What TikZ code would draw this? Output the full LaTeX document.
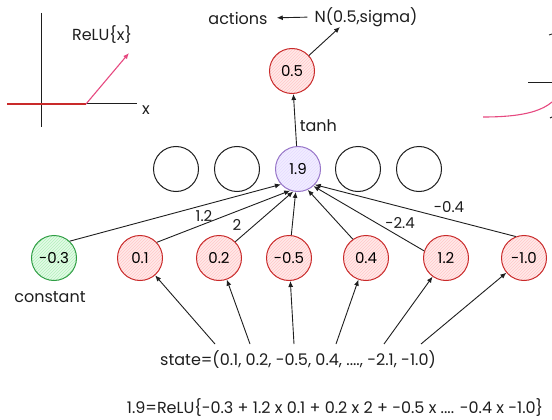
\documentclass[tikz,border=0pt]{standalone}
\usepackage{fontspec}
\setmainfont{Poppins}
\usetikzlibrary{arrows.meta,patterns}
\definecolor{exred}{HTML}{C92A2A}
\definecolor{exredfill}{HTML}{FFC9C9}
\definecolor{exgreen}{HTML}{2F9E44}
\definecolor{exgreenfill}{HTML}{B2F2BB}
\definecolor{expurple}{HTML}{9775C8}
\definecolor{expurplefill}{HTML}{E5DBFF}
\definecolor{expink}{HTML}{E64980}
\definecolor{exline}{HTML}{1E1E1E}
\tikzset{
  txt/.style={font=\fontsize{16}{18}\selectfont, text=exline, inner sep=1pt},
  neuron/.style={circle, minimum size=45pt, inner sep=0pt, draw=exline, line width=1pt, font=\fontsize{15}{17}\selectfont},
  rednode/.style={neuron, draw=exred, preaction={fill=exredfill!40}, pattern={north east lines}, pattern color=exredfill},
  greennode/.style={neuron, draw=exgreen, preaction={fill=exgreenfill!35}, pattern={north east lines}, pattern color=exgreenfill},
  purplenode/.style={neuron, draw=expurple, preaction={fill=expurplefill!50}, pattern={north east lines}, pattern color=expurplefill},
  conn/.style={draw=exline, line width=0.9pt, -{Latex[length=6pt,width=5pt]}},
  wlabel/.style={txt, font=\fontsize{15}{17}\selectfont},
}
\begin{document}
\begin{tikzpicture}[x=1pt,y=-1pt]
\useasboundingbox (0,0) rectangle (552,420);
% ReLU plot (left)
\draw[exline, line width=1pt] (41,13) -- (41,127);
\draw[exline, line width=1pt] (7,104) -- (137,104);
\draw[exred, line width=1.3pt] (7,104) -- (86,104);
\draw[expink, line width=1.1pt, -{Latex[length=6pt,width=5pt]}] (86,104) -- (129,53);
\node[txt] (relu) at (102,35) {ReLU\{x\}};
\node[txt] (xlab) at (146,110) {x};
% tanh plot (right, cut off)
\draw[exline, line width=1pt] (528,83) -- (552,83);
\draw[expink, line width=1.1pt] (483,117) .. controls (520,117) and (540,112) .. (552,102);
\draw[exline, line width=0.9pt] (549,35) -- (552,34);
\draw[exline, line width=0.9pt] (550,118) -- (552,117);
% top
\node[txt] (actions) at (238,18) {actions};
\node[txt] (normal) at (366,17) {N(0.5,sigma)};
\draw[conn, shorten >=8pt, shorten <=6pt] (normal.west) -- (actions.east);
% output node
\node[rednode] (out) at (292,71) {0.5};
\coordinate (ntip) at (340,27);
\draw[conn] (out) -- (ntip);
% hidden layer
\node[neuron] (h1) at (176,169) {};
\node[neuron] (h2) at (237,169) {};
\node[purplenode] (h3) at (298,169) {1.9};
\node[neuron] (h4) at (358,169) {};
\node[neuron] (h5) at (419,169) {};
\draw[conn] (h3) -- node[txt, right, pos=0.4, xshift=3pt] {tanh} (out);
% input layer
\node[greennode] (c) at (54,258) {-0.3};
\node[rednode] (i1) at (140,258) {0.1};
\node[rednode] (i2) at (219,258) {0.2};
\node[rednode] (i3) at (289,258) {-0.5};
\node[rednode] (i4) at (366,258) {0.4};
\node[rednode] (i5) at (446,258) {1.2};
\node[rednode] (i6) at (524,258) {-1.0};
\node[txt] (const) at (50,297) {constant};
% weights
\draw[conn] (c.47) -- (h3.222);
\draw[conn] (i1.43) -- (h3.250);
\draw[conn] (i2.45) -- (h3.258);
\draw[conn] (i3) -- (h3);
\draw[conn] (i4.125) -- (h3.295);
\draw[conn] (i5.162) -- (h3.312);
\draw[conn] (i6.111) -- (h3.317);
\node[wlabel] (w1) at (204,216) {1.2};
\node[wlabel] (w2) at (237,225) {2};
\node[wlabel] (w5) at (400,223) {-2.4};
\node[wlabel] (w6) at (449,207) {-0.4};
% state
\node[txt] (state) at (298,360) {state=(0.1, 0.2, -0.5, 0.4, ...., -2.1, -1.0)};
\coordinate (s1) at (215,344);
\coordinate (s2) at (250,344);
\coordinate (s3) at (294,344);
\coordinate (s4) at (336,344);
\coordinate (s5) at (384,344);
\coordinate (s6) at (421,344);
\draw[conn] (s1) -- (i1);
\draw[conn] (s2) -- (i2);
\draw[conn] (s3) -- (i3);
\draw[conn] (s4) -- (i4);
\draw[conn] (s5) -- (i5);
\draw[conn] (s6) -- (i6);
% formula
\node[txt] (formula) at (335,408) {1.9=ReLU\{-0.3 + 1.2 x 0.1 + 0.2 x 2 + -0.5 x .... -0.4 x -1.0\}};
\end{tikzpicture}
\end{document}
